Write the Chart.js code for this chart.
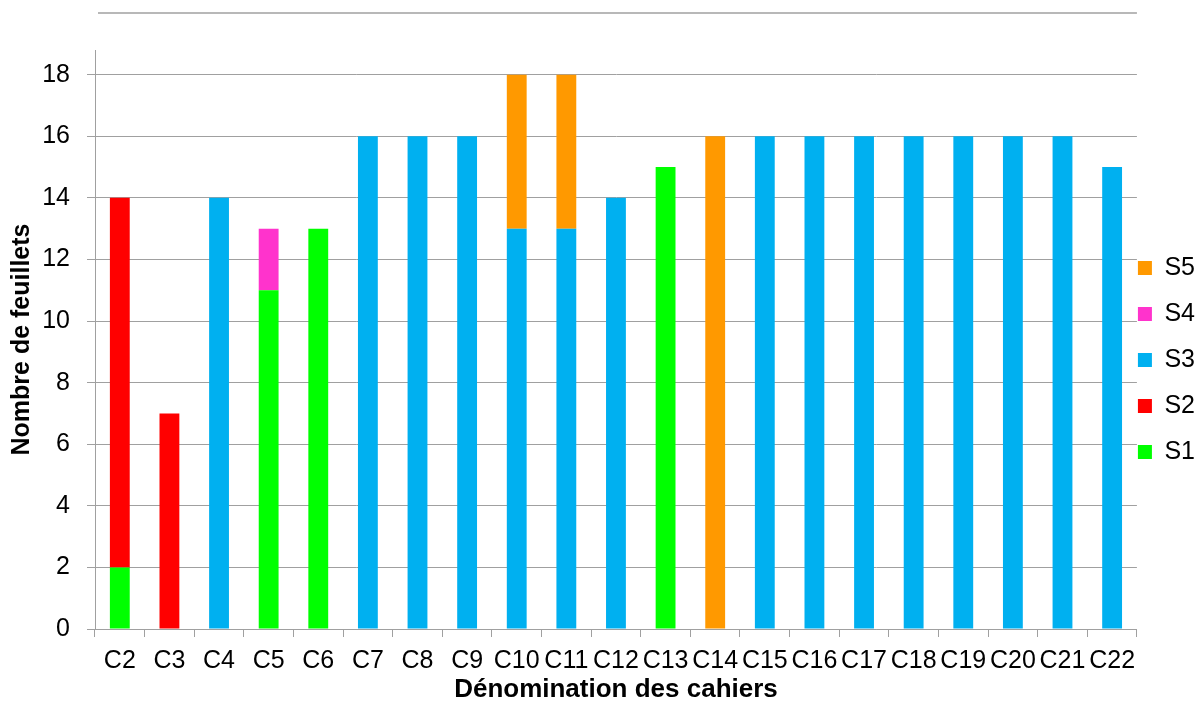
<!DOCTYPE html>
<html>
<head>
<meta charset="utf-8">
<script src="https://cdn.jsdelivr.net/npm/chart.js@4"></script>
<style>
  html, body { margin: 0; padding: 0; background: #fff; }
  canvas { display: block; }
</style>
</head>
<body>
<canvas id="cahiers" width="1195" height="704"></canvas>
<script>
const categories = ['C2','C3','C4','C5','C6','C7','C8','C9','C10','C11','C12','C13','C14','C15','C16','C17','C18','C19','C20','C21','C22'];
const s1 = [2, 0, 0, 11, 13, 0, 0, 0, 0, 0, 0, 15, 0, 0, 0, 0, 0, 0, 0, 0, 0];
const s2 = [12, 7, 0, 0, 0, 0, 0, 0, 0, 0, 0, 0, 0, 0, 0, 0, 0, 0, 0, 0, 0];
const s3 = [0, 0, 14, 0, 0, 16, 16, 16, 13, 13, 14, 0, 0, 16, 16, 16, 16, 16, 16, 16, 15];
const s4 = [0, 0, 0, 2, 0, 0, 0, 0, 0, 0, 0, 0, 0, 0, 0, 0, 0, 0, 0, 0, 0];
const s5 = [0, 0, 0, 0, 0, 0, 0, 0, 5, 5, 0, 0, 16, 0, 0, 0, 0, 0, 0, 0, 0];

const gridColor = '#a0a0a0';
const fam = '"Liberation Sans", Arial, sans-serif';
const font = { family: fam, size: 25 };
const legendPad = 21;

// thin grey rule above the plot, and legend pulled close to the plot
const tweaks = {
    id: 'tweaks',
    afterLayout(chart) {
        const lg = chart.legend;
        const dx = chart.chartArea.right + 1 - (lg.left + legendPad);
        lg.left += dx;
        lg.right += dx;
        lg.top -= 17;
        lg.bottom -= 17;
    },
    afterDraw(chart) {
        const ctx = chart.ctx;
        ctx.save();
        ctx.strokeStyle = gridColor;
        ctx.lineWidth = 1.5;
        ctx.beginPath();
        ctx.moveTo(98, 13);
        ctx.lineTo(chart.chartArea.right, 13);
        ctx.stroke();
        ctx.restore();
    }
};

function series(label, data, color) {
    return {
        label: label,
        data: data,
        backgroundColor: color,
        borderWidth: 0,
        barPercentage: 0.4,
        categoryPercentage: 1.0
    };
}

const chart = new Chart(document.getElementById('cahiers').getContext('2d'), {
    type: 'bar',
    data: {
        labels: categories,
        datasets: [
            series('S1', s1, '#00ff00'),
            series('S2', s2, '#ff0000'),
            series('S3', s3, '#00b0f0'),
            series('S4', s4, '#ff33cc'),
            series('S5', s5, '#ff9900')
        ]
    },
    options: {
        responsive: false,
        animation: false,
        layout: { padding: { top: 50, left: 7, right: -30, bottom: 0 } },
        plugins: {
            tooltip: { enabled: false },
            legend: {
                position: 'right',
                reverse: true,
                labels: {
                    boxWidth: 14,
                    boxHeight: 14,
                    padding: legendPad,
                    color: '#000',
                    font: font
                }
            }
        },
        scales: {
            x: {
                stacked: true,
                afterFit(scale) { scale.height = 75; },
                grid: {
                    offset: true,
                    drawOnChartArea: false,
                    drawTicks: true,
                    tickLength: 8,
                    color: gridColor
                },
                border: { color: gridColor },
                ticks: {
                    autoSkip: false,
                    maxRotation: 0,
                    color: '#000',
                    font: font,
                    padding: 9
                },
                title: {
                    display: true,
                    text: 'Dénomination des cahiers',
                    color: '#000',
                    font: { family: fam, size: 26, weight: 'bold' },
                    padding: { top: 0, bottom: -1 }
                }
            },
            y: {
                stacked: true,
                min: 0,
                max: 18.8,
                afterFit(scale) { scale.width = 88; },
                grid: {
                    color: gridColor,
                    tickLength: 8
                },
                border: { color: gridColor },
                ticks: {
                    stepSize: 2,
                    includeBounds: false,
                    color: '#000',
                    font: font,
                    padding: 17
                },
                title: {
                    display: true,
                    text: 'Nombre de feuillets',
                    color: '#000',
                    font: { family: fam, size: 25, weight: 'bold' },
                    padding: { top: 0, bottom: 0 }
                }
            }
        }
    },
    plugins: [tweaks]
});
</script>
</body>
</html>
